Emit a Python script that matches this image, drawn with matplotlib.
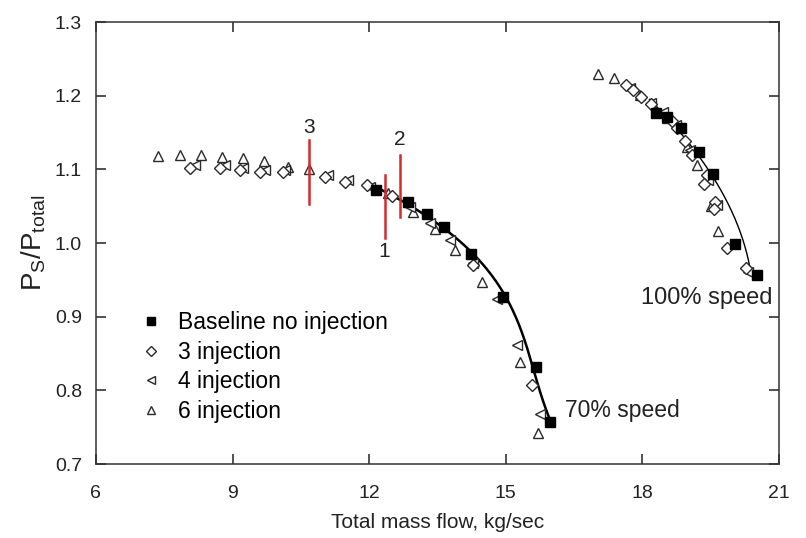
import numpy as np
import matplotlib
matplotlib.use("Agg")
import matplotlib.pyplot as plt

plt.rcParams['font.family'] = ['Liberation Sans', 'DejaVu Sans']

# ---- 70% speed line ----
base70_x = [12.15, 12.85, 13.27, 13.64, 14.23, 14.93, 15.66, 15.97]
base70_y = [1.072, 1.056, 1.039, 1.022, 0.985, 0.927, 0.832, 0.757]

inj3_70_x = [8.06, 8.72, 9.16, 9.60, 10.10, 11.03, 11.47, 11.95, 12.50, 14.27, 15.57]
inj3_70_y = [1.102, 1.102, 1.099, 1.096, 1.096, 1.090, 1.083, 1.079, 1.064, 0.970, 0.807]

inj4_70_x = [8.17, 8.83, 9.23, 9.71, 10.15, 11.09, 11.53, 12.01, 12.89, 13.33, 13.77,
             14.27, 14.80, 15.24, 15.75]
inj4_70_y = [1.106, 1.106, 1.102, 1.099, 1.099, 1.092, 1.086, 1.076, 1.049, 1.027, 1.004,
             0.973, 0.924, 0.862, 0.768]

inj6_70_x = [7.36, 7.84, 8.30, 8.77, 9.23, 9.69, 10.21, 10.68, 12.41, 12.96, 13.44,
             13.88, 14.47, 15.31, 15.70]
inj6_70_y = [1.118, 1.119, 1.119, 1.117, 1.115, 1.111, 1.103, 1.100, 1.068, 1.042, 1.019,
             0.991, 0.947, 0.838, 0.742]

# ---- 100% speed line ----
base100_x = [18.31, 18.55, 18.84, 19.24, 19.55, 20.03, 20.51]
base100_y = [1.176, 1.171, 1.156, 1.124, 1.094, 0.999, 0.957]

inj3_100_x = [17.63, 17.79, 17.96, 18.18, 18.64, 18.75, 18.93, 19.08, 19.41, 19.35,
              19.59, 19.57, 19.85, 20.27]
inj3_100_y = [1.214, 1.208, 1.198, 1.189, 1.166, 1.156, 1.138, 1.119, 1.092, 1.080,
              1.056, 1.046, 0.993, 0.966]

inj4_100_x = [17.72, 18.20, 18.46, 18.73, 19.04, 19.45, 19.63, 20.33]
inj4_100_y = [1.210, 1.190, 1.178, 1.160, 1.126, 1.086, 1.052, 0.961]

inj6_100_x = [17.02, 17.37, 17.94, 18.55, 18.99, 19.19, 19.50, 19.67]
inj6_100_y = [1.229, 1.224, 1.201, 1.170, 1.130, 1.106, 1.050, 1.016]

# injection stations marked on the 70% line
station_labels = ['3', '1', '2']
station_x = [10.68, 12.34, 12.67]
station_ylo = [1.053, 1.007, 1.035]
station_yhi = [1.140, 1.092, 1.120]
station_label_y = [1.157, 0.988, 1.140]

fig = plt.figure(figsize=(8.06, 5.38), dpi=100)
ax = fig.add_axes([0.119, 0.1375, 0.8475, 0.8215])

ink = '#222222'

# fitted speed lines through the baseline points (mass flow as a function of pressure ratio)
c70 = np.polyfit(base70_y, base70_x, 3)
yy70 = np.linspace(min(base70_y), max(base70_y), 200)
ax.plot(np.polyval(c70, yy70), yy70, color='black', lw=1.8, zorder=2)

c100 = np.polyfit(base100_y, base100_x, 2)
yy100 = np.linspace(min(base100_y), 1.195, 200)
ax.plot(np.polyval(c100, yy100), yy100, color='black', lw=1.0, zorder=2)

open_kw = dict(ls='none', mfc='white', mec='#2a2a2a', mew=1.0, zorder=3)
ax.plot(inj6_70_x + inj6_100_x, inj6_70_y + inj6_100_y, marker='^', ms=7, **open_kw)
ax.plot(inj4_70_x + inj4_100_x, inj4_70_y + inj4_100_y, marker='<', ms=7, **open_kw)
ax.plot(inj3_70_x + inj3_100_x, inj3_70_y + inj3_100_y, marker='D', ms=6, **open_kw)
ax.plot(base70_x + base100_x, base70_y + base100_y, marker='s', ls='none',
        mfc='black', mec='black', ms=6.5, zorder=4)

for lab, x, y0, y1, ly in zip(station_labels, station_x, station_ylo, station_yhi, station_label_y):
    ax.plot([x, x], [y0, y1], color='#d42a2a', lw=1.8, zorder=5)
    ax.text(x, ly, lab, ha='center', va='center', fontsize=15, color=ink)

ax.text(16.3, 0.773, '70% speed', ha='left', va='center', fontsize=16.5, color=ink)
ax.text(17.98, 0.925, '100% speed', ha='left', va='center', fontsize=17, color=ink)

# legend entries
h_base, = ax.plot([], [], marker='s', ls='none', mfc='black', mec='black', ms=6)
h3, = ax.plot([], [], marker='D', ls='none', mfc='white', mec='#2a2a2a', mew=1.0, ms=5)
h4, = ax.plot([], [], marker='<', ls='none', mfc='white', mec='#2a2a2a', mew=1.0, ms=6)
h6, = ax.plot([], [], marker='^', ls='none', mfc='white', mec='#2a2a2a', mew=1.0, ms=6)
ax.legend([h_base, h3, h4, h6],
          ['Baseline no injection', '3 injection', '4 injection', '6 injection'],
          loc='upper left', bbox_to_anchor=(0.05, 0.366), frameon=False, fontsize=16.5,
          handlelength=1.0, handletextpad=0.7, labelspacing=0.28, borderaxespad=0)

ax.set_xlim(6, 21)
ax.set_ylim(0.7, 1.3)
ax.set_xticks([6, 9, 12, 15, 18, 21])
ax.set_yticks([0.7, 0.8, 0.9, 1.0, 1.1, 1.2, 1.3])
ax.set_yticklabels(['0.7', '0.8', '0.9', '1.0', '1.1', '1.2', '1.3'])
ax.tick_params(direction='in', length=7, width=1.1, top=True, right=True,
               labelsize=14, colors=ink, pad=10)
ax.tick_params(axis='x', pad=15)
for s in ax.spines.values():
    s.set_linewidth(1.1)
    s.set_color('#333333')

ax.set_xlabel('Total mass flow, kg/sec', fontsize=15, color=ink, labelpad=8)
ax.set_ylabel(r'$\mathregular{P_S/P_{total}}$', fontsize=20, color=ink, labelpad=5)

fig.savefig('out.png', dpi=100)
